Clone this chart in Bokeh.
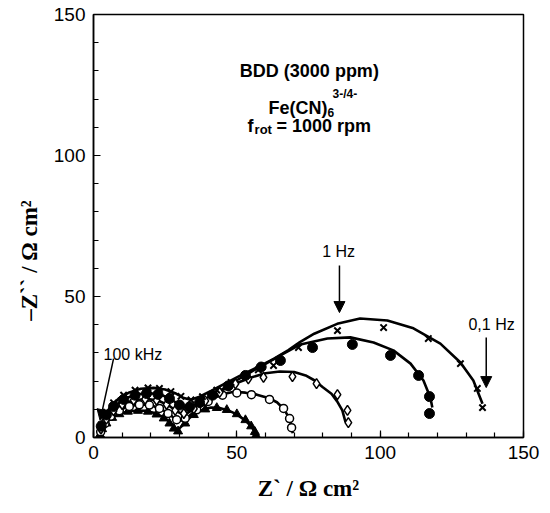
from bokeh.plotting import figure
from bokeh.models import Range1d, Label, Arrow, NormalHead, FixedTicker
from bokeh.embed import file_html
from bokeh.resources import INLINE

# ---------------- data ----------------
# filled triangles
tri_x = [2.3, 3.0, 4.5, 6.5, 9.0, 12.0, 15.5, 19.0, 22.0, 24.5, 26.5, 28.0, 29.5, 32.0, 35.0, 39.0, 43.0, 46.5, 50.0, 53.0, 55.0, 56.3, 56.7]
tri_y = [1.0, 3.0, 5.0, 7.0, 8.3, 9.2, 9.5, 9.2, 8.2, 6.8, 5.0, 3.2, 2.2, 5.0, 8.0, 10.0, 10.5, 9.8, 8.3, 6.2, 4.0, 2.0, 0.8]
tri_fit_x = [2.0, 2.5, 3.5, 5.0, 7.0, 9.5, 12.0, 15.0, 18.0, 21.0, 24.0, 26.5, 28.0, 29.3, 31.0, 33.0, 35.0, 38.0, 41.0, 44.0, 47.0, 50.0, 53.0, 55.0, 56.3, 56.8]
tri_fit_y = [0.0, 2.0, 4.0, 5.8, 7.3, 8.5, 9.2, 9.6, 9.5, 8.8, 7.4, 5.6, 4.0, 2.6, 4.2, 6.5, 8.2, 9.8, 10.6, 10.5, 9.6, 8.2, 6.0, 4.0, 2.0, 0.5]

# open circles
oc_x = [2.5, 4.0, 6.0, 9.0, 12.5, 16.0, 19.5, 23.0, 26.0, 29.0, 32.0, 36.0, 40.0, 45.0, 50.0, 55.1, 61.4, 66.3, 68.4, 69.1]
oc_y = [2.0, 5.0, 7.5, 9.5, 11.0, 11.6, 11.5, 10.3, 8.5, 6.3, 6.8, 9.8, 12.8, 15.0, 15.8, 15.2, 13.5, 10.3, 6.7, 3.5]
oc_fit_x = [2.0, 2.6, 3.8, 5.5, 8.0, 11.0, 14.0, 17.0, 20.0, 23.0, 26.0, 28.0, 30.0, 32.0, 35.0, 38.0, 41.0, 45.0, 49.0, 53.0, 57.0, 61.0, 64.0, 66.5, 68.3, 69.2, 69.5]
oc_fit_y = [0.0, 2.5, 5.0, 7.0, 9.0, 10.6, 11.4, 11.7, 11.4, 10.4, 8.6, 7.0, 5.8, 6.5, 9.0, 11.5, 13.5, 15.3, 16.2, 15.9, 15.2, 14.0, 12.5, 10.0, 6.8, 3.5, 1.5]

# open diamonds
dia_x = [2.6, 4.5, 7.0, 10.0, 14.0, 18.0, 22.0, 25.5, 28.5, 31.5, 35.0, 39.0, 44.0, 49.5, 54.0, 59.3, 69.4, 77.8, 85.1, 88.6, 88.9]
dia_y = [3.0, 6.5, 9.5, 11.7, 13.2, 13.6, 13.2, 11.7, 9.6, 8.5, 10.2, 13.0, 16.0, 19.0, 20.8, 21.3, 21.6, 19.1, 15.2, 9.6, 5.3]
dia_fit_x = [2.0, 2.6, 4.0, 6.0, 9.0, 12.0, 15.5, 19.0, 22.5, 26.0, 29.0, 31.0, 33.0, 36.0, 40.0, 45.0, 50.0, 55.0, 60.0, 65.0, 70.0, 74.0, 77.0, 80.0, 83.0, 85.0, 86.8, 87.9]
dia_fit_y = [0.0, 3.0, 6.0, 8.5, 11.0, 12.6, 13.4, 13.6, 13.1, 11.5, 9.3, 8.3, 8.8, 11.0, 13.8, 16.8, 19.3, 21.3, 22.8, 23.4, 23.2, 22.0, 20.3, 17.8, 15.5, 12.8, 9.6, 5.5]

# filled circles
fc_x = [2.7, 4.5, 7.0, 10.5, 14.5, 18.5, 22.5, 26.5, 30.0, 33.5, 37.0, 41.5, 47.0, 53.0, 58.5, 65.2, 76.4, 90.3, 103.6, 113.4, 117.2, 117.2]
fc_y = [4.0, 8.0, 11.0, 13.5, 15.0, 15.6, 15.3, 13.8, 11.5, 10.8, 12.4, 15.0, 18.3, 22.0, 25.0, 27.3, 31.9, 33.0, 29.1, 22.0, 14.5, 8.5]
fc_fit_x = [2.0, 2.6, 4.0, 6.0, 9.0, 12.0, 16.0, 20.0, 24.0, 27.5, 30.5, 32.5, 35.0, 39.0, 44.0, 50.0, 55.0, 60.0, 65.2, 72.2, 81.6, 89.6, 97.7, 104.6, 110.6, 115.1, 117.5, 118.2]
fc_fit_y = [0.0, 3.5, 7.0, 9.8, 12.5, 14.2, 15.4, 15.7, 15.0, 13.2, 11.2, 10.5, 11.3, 13.5, 16.5, 20.3, 23.3, 26.1, 29.1, 33.0, 35.1, 35.5, 33.7, 30.9, 26.2, 20.2, 14.2, 10.6]

# crosses
cr_x = [2.7, 4.5, 7.0, 10.5, 14.5, 19.0, 23.0, 27.0, 30.5, 34.0, 38.0, 43.0, 48.0, 53.0, 57.5, 62.8, 71.5, 85.1, 101.2, 116.8, 128.0, 133.9, 135.7]
cr_y = [4.5, 9.0, 12.3, 15.0, 16.8, 17.6, 17.4, 16.3, 14.6, 13.3, 14.5, 16.8, 19.5, 22.0, 24.0, 25.5, 31.9, 37.9, 39.0, 35.1, 26.2, 17.4, 10.6]
cr_fit_x = [2.0, 2.6, 4.0, 6.0, 9.0, 12.5, 16.5, 21.0, 25.0, 28.5, 31.5, 34.0, 37.0, 41.0, 46.0, 52.0, 58.0, 63.0, 68.0, 72.0, 77.0, 85.0, 93.0, 102.5, 111.6, 121.0, 128.0, 132.5, 135.7]
cr_fit_y = [0.0, 4.0, 8.0, 11.0, 14.0, 16.0, 17.3, 17.6, 17.0, 15.7, 14.0, 13.4, 14.5, 16.5, 19.2, 22.4, 25.3, 28.0, 31.0, 33.8, 36.8, 40.3, 42.2, 41.5, 38.7, 33.3, 26.6, 20.2, 12.0]

x_ticks = [0, 50, 100, 150]
y_ticks = [0, 50, 100, 150]

# ---------------- figure ----------------
p = figure(width=540, height=503, output_backend="svg", toolbar_location=None,
           x_range=Range1d(0, 150), y_range=Range1d(0, 150),
           min_border_left=93, min_border_top=14, min_border_right=17, min_border_bottom=66)
p.background_fill_color = "white"
p.border_fill_color = "white"
p.outline_line_color = "black"
p.outline_line_width = 1.5
p.grid.visible = False

for ax in (p.xaxis[0], p.yaxis[0]):
    ax.axis_line_width = 1.5
    ax.axis_line_color = "black"
    ax.major_tick_in = 7
    ax.major_tick_out = 0
    ax.minor_tick_in = 5
    ax.minor_tick_out = 0
    ax.major_tick_line_width = 1.2
    ax.minor_tick_line_width = 1.2
    ax.major_label_text_font = "Liberation Sans"
    ax.major_label_text_font_size = "19px"
    ax.major_label_text_color = "black"
    ax.major_label_standoff = 8
    ax.axis_label_text_font = "Liberation Serif"
    ax.axis_label_text_font_style = "bold"
    ax.axis_label_text_font_size = "23px"
    ax.axis_label_text_color = "black"

p.xaxis[0].ticker = FixedTicker(ticks=x_ticks, minor_ticks=list(range(0, 151, 10)))
p.yaxis[0].ticker = FixedTicker(ticks=y_ticks, minor_ticks=list(range(0, 151, 10)))

p.xaxis[0].axis_label = "Z` / \u03a9 cm\u00b2"
p.xaxis[0].axis_label_standoff = 14
# trailing spaces push the visible text toward the lower part of the axis, as in the reference
p.yaxis[0].axis_label = "\u2013Z`` / \u03a9 cm\u00b2\u2003\u2003\u2003"
p.yaxis[0].axis_label_standoff = 9

# fitted lines
lw = 2.6
for fx, fy in ((tri_fit_x, tri_fit_y), (oc_fit_x, oc_fit_y), (dia_fit_x, dia_fit_y),
               (fc_fit_x, fc_fit_y), (cr_fit_x, cr_fit_y)):
    p.line(fx, fy, line_color="black", line_width=lw)

# markers
p.scatter(tri_x, tri_y, marker="triangle", size=9, fill_color="black", line_color="black")
p.scatter(oc_x, oc_y, marker="circle", size=8, fill_color="white", line_color="black", line_width=1.5)
p.scatter(dia_x, dia_y, marker="diamond", size=10, fill_color="white", line_color="black", line_width=1.5)
p.scatter(fc_x, fc_y, marker="circle", size=10, fill_color="black", line_color="black")
p.scatter(cr_x, cr_y, marker="x", size=9, line_color="black", line_width=2)

# info text
bold = dict(text_font="Liberation Sans", text_font_style="bold", text_color="black")
p.add_layout(Label(x=75.3, y=130.1, text="BDD (3000 ppm)", text_align="center",
                   text_baseline="middle", text_font_size="18px", **bold))
p.add_layout(Label(x=81.6, y=117.0, text="Fe(CN)", text_align="right",
                   text_baseline="middle", text_font_size="18px", **bold))
p.add_layout(Label(x=81.6, y=117.0, y_offset=-5, text="6", text_align="left",
                   text_baseline="middle", text_font_size="12px", **bold))
p.add_layout(Label(x=83.4, y=117.0, y_offset=14, text="3-/4-", text_align="left",
                   text_baseline="middle", text_font_size="12px", **bold))
p.add_layout(Label(x=53.7, y=110.5, text="f", text_align="left",
                   text_baseline="middle", text_font_size="18px", **bold))
p.add_layout(Label(x=56.2, y=110.5, y_offset=-4, text="rot", text_align="left",
                   text_baseline="middle", text_font_size="13px", **bold))
p.add_layout(Label(x=63.8, y=110.5, text="= 1000 rpm", text_align="left",
                   text_baseline="middle", text_font_size="18px", **bold))

# frequency annotations
reg = dict(text_font="Liberation Sans", text_color="black", text_font_size="16px",
           text_baseline="middle")
p.add_layout(Label(x=3.5, y=29.4, text="100 kHz", text_align="left", **reg))
p.add_layout(Label(x=85.5, y=66.0, text="1 Hz", text_align="center", **reg))
p.add_layout(Label(x=130.8, y=40.1, text="0,1 Hz", text_align="left", **reg))

def head():
    return NormalHead(size=11, fill_color="black", line_color="black")

p.add_layout(Arrow(end=head(), x_start=7.0, y_start=28.0, x_end=2.3, y_end=6.0,
                   line_color="black", line_width=1.5))
p.add_layout(Arrow(end=head(), x_start=85.8, y_start=61.0, x_end=85.8, y_end=44.3,
                   line_color="black", line_width=1.5))
p.add_layout(Arrow(end=head(), x_start=137.0, y_start=35.5, x_end=137.0, y_end=17.7,
                   line_color="black", line_width=1.5))

open("out.html", "w").write(file_html(p, INLINE))
